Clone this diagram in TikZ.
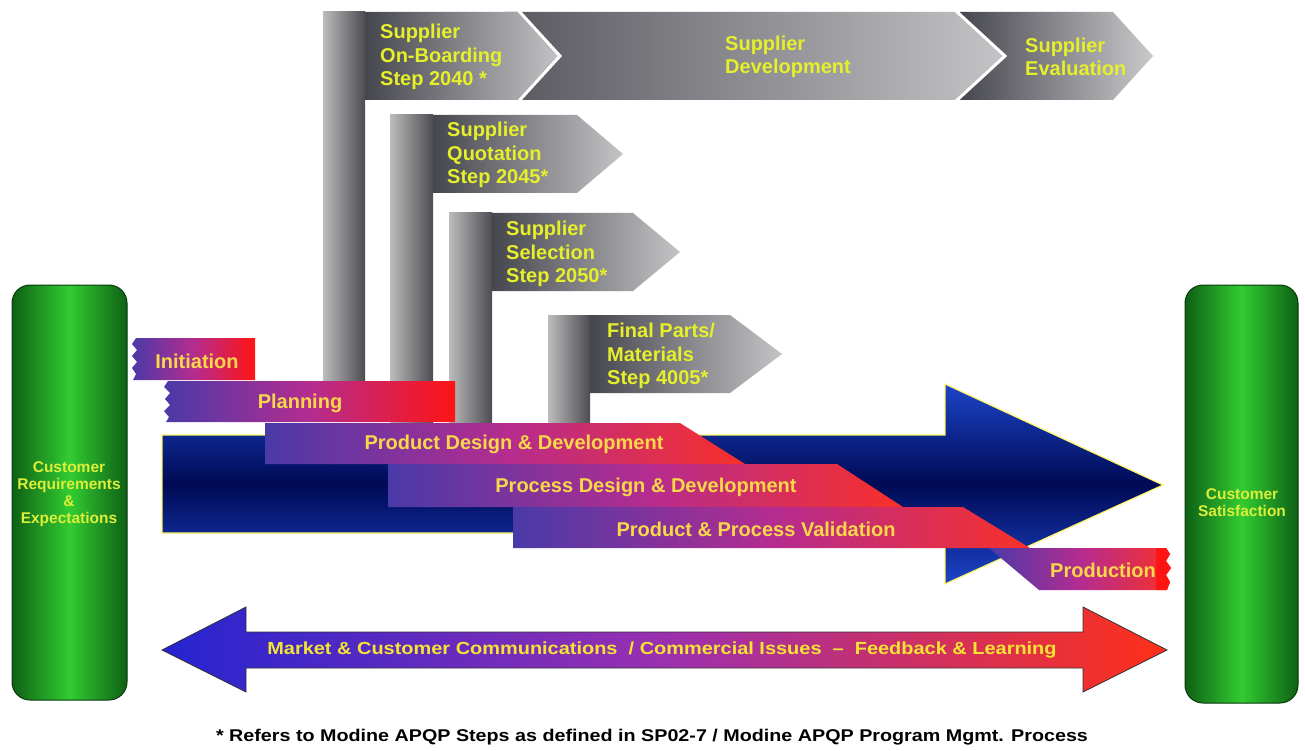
\documentclass[tikz,border=0pt]{standalone}
\usepackage{fontspec}
\setmainfont{Liberation Sans}
\definecolor{bartxt}{HTML}{F8D848}
\definecolor{suptxt}{HTML}{E6F02A}
\definecolor{pilltxt}{HTML}{DCEE3A}
\definecolor{fbtxt}{HTML}{F4E434}
\definecolor{barL}{HTML}{4A3AA8}
\definecolor{barM}{HTML}{B42C90}
\definecolor{barR}{HTML}{F8302A}
\definecolor{redend}{HTML}{FF1414}
\definecolor{grayL}{HTML}{C4C4C6}
\definecolor{grayD}{HTML}{46464E}
\definecolor{postL}{HTML}{BCBCBC}
\definecolor{postD}{HTML}{4C4C52}
\definecolor{greenD}{HTML}{0E6014}
\definecolor{greenM}{HTML}{32CC32}
\definecolor{blueE}{HTML}{1C44C8}
\definecolor{blueM}{HTML}{000A55}
\definecolor{arrL}{HTML}{2424D0}
\definecolor{arrM}{HTML}{9A30B0}
\definecolor{arrR}{HTML}{FF3018}
\begin{document}
\begin{tikzpicture}[x=1pt,y=-1pt,
  bartext/.style={font=\fontsize{20}{23}\selectfont\bfseries, text=bartxt, inner sep=0pt},
  suptext/.style={font=\fontsize{20}{23.5}\selectfont\bfseries, text=suptxt, align=left, anchor=west, inner sep=0pt},
  pilltext/.style={font=\fontsize{15.5}{17}\selectfont\bfseries, text=pilltxt, align=center, inner sep=0pt},
  band/.style={left color=grayD, right color=grayL},
  post/.style={left color=postL, right color=postD},
  phase/.style={left color=barL, right color=barR, middle color=barM},
  pillar/.style={left color=greenD, right color=greenD, middle color=greenM, draw=greenD!60!black, line width=1pt, rounded corners=18pt},
  gap/.style={draw=white, line width=3pt}
]
\useasboundingbox (0,0) rectangle (1305,751);

% ---- supplier chevrons along the top ----
\shade[left color=grayD, right color=grayL!90!white] (960,12) -- (1113,12) -- (1153,56) -- (1113,100) -- (960,100) -- cycle;
\shade[left color=grayD!90!white, right color=grayL] (505,12) -- (955,12) -- (1005,56) -- (955,100) -- (505,100) -- cycle;
\draw[gap] (955,10) -- (1005,56) -- (955,102);

% on-boarding (post + band)
\shade[band] (365,12) -- (518,12) -- (560,56) -- (518,100) -- (365,100) -- cycle;
\shade[post] (323,12) rectangle (365,381);
\draw[gap] (518,10) -- (560,56) -- (518,102);

% quotation
\shade[band] (433,115) -- (577,115) -- (623,154) -- (577,193) -- (433,193) -- cycle;
\shade[post] (390,115) rectangle (433,423);

% selection
\shade[band] (492,213) -- (633,213) -- (680,252) -- (633,291) -- (492,291) -- cycle;
\shade[post] (449,213) rectangle (492,423);

% final parts
\shade[band] (590,315) -- (730,315) -- (782,354) -- (730,393) -- (590,393) -- cycle;
\shade[post] (548,315) rectangle (590,423);

\node[suptext] (onb) at (380,57) {Supplier\\On-Boarding\\Step 2040 *};
\node[suptext] (dev) at (725,57) {Supplier\\Development};
\node[suptext] (eva) at (1025,57) {Supplier\\Evaluation};
\node[suptext] (quo) at (447,155) {Supplier\\Quotation\\Step 2045*};
\node[suptext] (sel) at (506,254) {Supplier\\Selection\\Step 2050*};
\node[suptext] (fin) at (607,356) {Final Parts/\\Materials\\Step 4005*};

% ---- big blue process arrow ----
\shade[top color=blueE, bottom color=blueE, middle color=blueM]
  (162,435) -- (945,435) -- (945,384) -- (1163,485) -- (945,584) -- (945,533) -- (162,533) -- cycle;
\draw[draw=yellow!60!white, line width=1.2pt, line join=miter]
  (162,435) -- (945,435) -- (945,384) -- (1163,485) -- (945,584) -- (945,533) -- (162,533) -- cycle;

% ---- phase bars ----
\shade[left color=barL, right color=redend, middle color=barM]
  (255,338) -- (136,338) -- (132,344) -- (137,350) -- (132,356) -- (137,362) -- (132,368) -- (136,374) -- (133,380) -- (255,380) -- cycle;
\shade[left color=barL, right color=redend, middle color=barM]
  (455,381) -- (168,381) -- (164,387) -- (170,393) -- (165,399) -- (170,405) -- (164,411) -- (169,417) -- (166,422) -- (455,422) -- cycle;
\shade[phase] (265,423) -- (680,423) -- (745,464) -- (265,464) -- cycle;
\shade[phase] (388,464) -- (837,464) -- (903,507) -- (388,507) -- cycle;
\shade[phase] (513,507) -- (963,507) -- (1030,548) -- (513,548) -- cycle;
\shade[phase] (989,548) -- (1166,548) -- (1170,554) -- (1166,561) -- (1171,568) -- (1166,575) -- (1170,582) -- (1167,590) -- (1039,590) -- cycle;
\fill[redend] (1156,548) -- (1166,548) -- (1170,554) -- (1166,561) -- (1171,568) -- (1166,575) -- (1170,582) -- (1167,590) -- (1156,590) -- cycle;

\node[bartext] (ini) at (197,361) {Initiation};
\node[bartext] (pla) at (300,403) {Planning};
\node[bartext] (pdd) at (514,444) {Product Design \& Development};
\node[bartext] (prd) at (646,487) {Process Design \& Development};
\node[bartext] (val) at (756,529) {Product \& Process Validation};
\node[bartext] (pro) at (1103,570) {Production};

% ---- customer pillars ----
\shadedraw[pillar] (12,285) rectangle (127,700);
\shadedraw[pillar] (1185,285) rectangle (1298,703);
\node[pilltext] (req) at (69,494) {Customer\\Requirements\\\&\\Expectations};
\node[pilltext] (sat) at (1242,503) {Customer\\Satisfaction};

% ---- feedback double arrow ----
\shadedraw[left color=arrL, right color=arrR, middle color=arrM, draw=black!80, line width=0.8pt]
  (162,650) -- (246,607) -- (246,632) -- (1083,632) -- (1083,607) -- (1167,650) -- (1083,692) -- (1083,668) -- (246,668) -- (246,692) -- cycle;
\node[font=\fontsize{17.5}{20}\selectfont\bfseries, text=fbtxt, inner sep=0pt] (fb) at (662,650)
  {\scalebox{1.14}[1]{Market \& Customer Communications \ / Commercial Issues \ -- \ Feedback \& Learning}};

% ---- footnote ----
\node[font=\fontsize{17}{20}\selectfont\bfseries, text=black, inner sep=0pt] (note) at (652,737)
  {\scalebox{1.16}[1]{* Refers to Modine APQP Steps as defined in SP02-7 / Modine APQP Program Mgmt. Process}};
\end{tikzpicture}
\end{document}
